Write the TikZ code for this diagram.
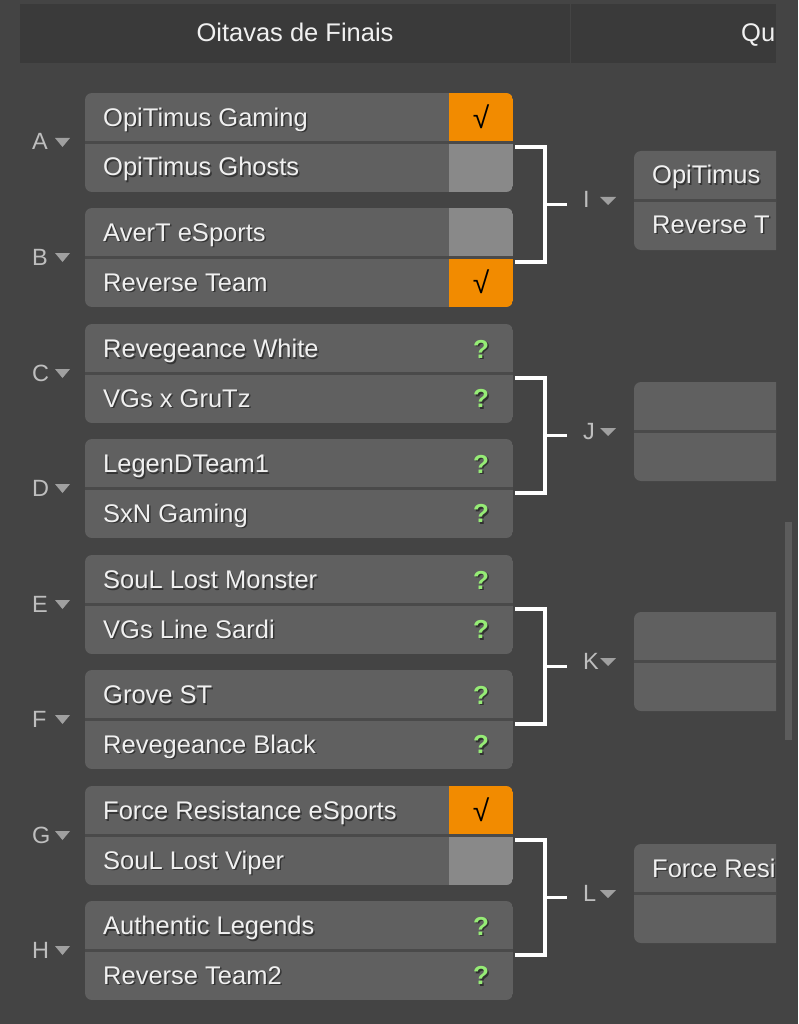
\documentclass[tikz,border=0pt]{standalone}
\usepackage{fontspec}
\setmainfont{Liberation Sans}
\usetikzlibrary{positioning,calc}

\definecolor{bgcol}{RGB}{68,68,68}
\definecolor{headcol}{RGB}{58,58,58}
\definecolor{boxcol}{RGB}{96,96,96}
\definecolor{sepcol}{RGB}{74,74,74}
\definecolor{losecol}{RGB}{137,137,137}
\definecolor{wincol}{RGB}{242,139,0}
\definecolor{qcol}{RGB}{150,236,118}
\definecolor{lblcol}{RGB}{190,190,190}
\definecolor{tricol}{RGB}{160,160,160}
\definecolor{barcol}{RGB}{92,92,92}

\tikzset{
  teamfont/.style={font=\fontsize{25.5}{28}\selectfont, text=white!94!black, inner sep=0pt},
  lblfont/.style={font=\fontsize{23.5}{26}\selectfont, text=lblcol, inner sep=0pt},
  qmark/.style={font=\fontsize{26}{28}\selectfont\bfseries, text=qcol, inner sep=0pt},
  tick/.style={font=\fontsize{30}{32}\selectfont, inner sep=0pt},
  matchbox/.style={minimum width=428pt, minimum height=99pt, inner sep=0pt},
  bracket/.style={draw=white, line width=3.5pt},
  tri/.style={fill=tricol},
}

% team name with a soft drop shadow
\newcommand\teamname[4]{%
  \node[teamfont, anchor=base west, text=black, opacity=.45] at (#2+1.5,#3+1.5) {#4};
  \node[teamfont, anchor=base west] (#1) at (#2,#3) {#4};}

\begin{document}
\begin{tikzpicture}[x=1pt,y=-1pt]
  \fill[bgcol] (0,0) rectangle (798,1024);
  \useasboundingbox (0,0) rectangle (798,1024);

  % header
  \fill[headcol] (20,4) rectangle (776,63);
  \draw[bgcol, line width=1pt] (570,4) -- (570,63);
  \node[teamfont, anchor=base] (round1) at (295,42) {Oitavas de Finais};
  \node[teamfont, anchor=base west] (round2) at (741,42) {Qu};

  % scroll bar
  \fill[barcol] (785,522) rectangle (792,740);

  % first round
  \foreach \m/\ytop/\ta/\tb/\res in {
      A/93/OpiTimus Gaming/OpiTimus Ghosts/1,
      B/208/AverT eSports/Reverse Team/2,
      C/324/Revegeance White/VGs x GruTz/0,
      D/439/LegenDTeam1/SxN Gaming/0,
      E/555/SouL Lost Monster/VGs Line Sardi/0,
      F/670/Grove ST/Revegeance Black/0,
      G/786/Force Resistance eSports/SouL Lost Viper/1,
      H/901/Authentic Legends/Reverse Team2/0}{
    \begin{scope}
      \clip[rounded corners=7pt] (85,\ytop) rectangle ++(428,99);
      \fill[boxcol] (85,\ytop) rectangle ++(428,99);
      \ifcase\res
      \or
        \fill[wincol] (449,\ytop) rectangle ++(64,49.5);
        \fill[losecol] (449,\ytop+49.5) rectangle ++(64,49.5);
      \or
        \fill[losecol] (449,\ytop) rectangle ++(64,49.5);
        \fill[wincol] (449,\ytop+49.5) rectangle ++(64,49.5);
      \fi
      \draw[sepcol, line width=2.5pt] (85,\ytop+49.5) -- ++(428,0);
    \end{scope}
    \node[matchbox] (m\m) at (299,\ytop+49.5) {};
    \teamname{m\m-1}{103}{\ytop+33.5}{\ta}
    \teamname{m\m-2}{103}{\ytop+83}{\tb}
    \ifcase\res
      \node[qmark, anchor=base, text=black, opacity=.5] at (482.5,\ytop+35.5) {?};
      \node[qmark, anchor=base] at (481,\ytop+34) {?};
      \node[qmark, anchor=base, text=black, opacity=.5] at (482.5,\ytop+85) {?};
      \node[qmark, anchor=base] at (481,\ytop+83.5) {?};
    \or
      \node[tick] at (481,\ytop+24) {√};
    \or
      \node[tick] at (481,\ytop+73.5) {√};
    \fi
    \node[lblfont, anchor=base west] (l\m) at (32,\ytop+57) {\m};
    \fill[tri] (55,\ytop+45) -- (70,\ytop+45) -- (62.5,\ytop+54) -- cycle;
  }

  % brackets and second round
  \foreach \a/\b/\r/\ytop/\ta/\tb in {
      A/B/I/151/OpiTimus/Reverse T,
      C/D/J/382//,
      E/F/K/612//,
      G/H/L/844/Force Resi/}{
    \draw[bracket] ([shift={(2,4.5)}]m\a.east) -- ++(30,0) |- ([shift={(2,4.5)}]m\b.east);
    \coordinate (j\r) at ($(m\a.east)!.5!(m\b.east)+(32,4.5)$);
    \draw[bracket] (j\r) -- ++(22,0);
    \node[lblfont, anchor=base west] (r\r) at (583,\ytop+57) {\r};
    \fill[tri] (600,\ytop+46) -- (616,\ytop+46) -- (608,\ytop+54) -- cycle;
    \begin{scope}
      \clip (600,0) rectangle (776,1024);
      \fill[boxcol, rounded corners=7pt] (634,\ytop) rectangle (820,\ytop+99);
      \draw[sepcol, line width=2.5pt] (634,\ytop+49.5) -- (820,\ytop+49.5);
      \node[minimum width=186pt, minimum height=99pt, inner sep=0pt] (q\r) at (727,\ytop+49.5) {};
      \teamname{q\r-1}{652}{\ytop+33}{\ta}
      \teamname{q\r-2}{652}{\ytop+82.5}{\tb}
    \end{scope}
  }
\end{tikzpicture}
\end{document}
